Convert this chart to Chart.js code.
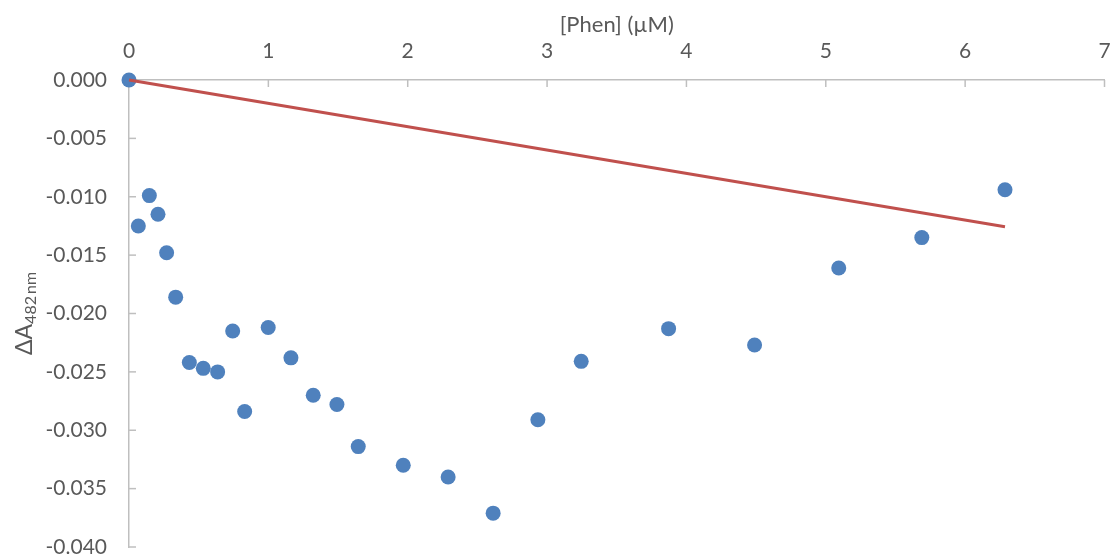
<!DOCTYPE html>
<html>
<head>
<meta charset="utf-8">
<title>Phen titration</title>
<script src="https://cdn.jsdelivr.net/npm/chart.js@4/dist/chart.umd.min.js"></script>
<style>
  html, body { margin: 0; padding: 0; background: #fff; }
  #wrap { width: 1112px; height: 555px; }
</style>
</head>
<body>
<div id="wrap"><canvas id="phenChart" width="1112" height="555"></canvas></div>
<script>
// [Phen] in µM and the absorbance change at 482 nm
const phen = [0, 0.067, 0.146, 0.208, 0.270, 0.335, 0.433, 0.533, 0.636, 0.744, 0.830, 0.999, 1.162,
  1.322, 1.492, 1.645, 1.968, 2.290, 2.613, 2.934, 3.245, 3.872, 4.489, 5.093, 5.689, 6.286];
const dA482 = [0, -0.0125, -0.0099, -0.0115, -0.0148, -0.0186, -0.0242, -0.0247, -0.0250, -0.0215, -0.0284, -0.0212, -0.0238,
  -0.0270, -0.0278, -0.0314, -0.0330, -0.0340, -0.0371, -0.0291, -0.0241, -0.0213, -0.0227, -0.0161, -0.0135, -0.0094];

// linear fit drawn in red
const fitX = [0, 6.286];
const fitY = [0, -0.01257];

const xTicks = [0, 1, 2, 3, 4, 5, 6, 7];
const yTicks = [0, -0.005, -0.010, -0.015, -0.020, -0.025, -0.030, -0.035, -0.040];

const axisColor = '#BFBFBF';
const textColor = '#595959';
const fontFamily = 'Lato, "Open Sans", sans-serif';

// Excel-style tick marks pointing into the plot area
const innerTicks = {
  id: 'innerTicks',
  beforeDatasetsDraw(chart) {
    const { ctx, scales: { x, y } } = chart;
    ctx.save();
    ctx.strokeStyle = axisColor;
    ctx.lineWidth = 1.5;
    x.ticks.forEach(t => {
      const px = x.getPixelForValue(t.value);
      ctx.beginPath();
      ctx.moveTo(px, x.bottom);
      ctx.lineTo(px, x.bottom + 7);
      ctx.stroke();
    });
    y.ticks.forEach(t => {
      const py = y.getPixelForValue(t.value);
      ctx.beginPath();
      ctx.moveTo(y.right, py);
      ctx.lineTo(y.right + 7, py);
      ctx.stroke();
    });
    ctx.restore();
  }
};

// y title with subscript: ΔA482 nm
const yTitle = {
  id: 'yTitle',
  afterDraw(chart) {
    const { ctx, chartArea } = chart;
    const cy = (chartArea.top + chartArea.bottom) / 2;
    ctx.save();
    ctx.translate(32, cy);
    ctx.rotate(-Math.PI / 2);
    ctx.fillStyle = textColor;
    ctx.textBaseline = 'alphabetic';
    const main = '\u0394A';
    const sub = '482\u2009nm';
    ctx.font = '23px ' + fontFamily;
    const w1 = ctx.measureText(main).width;
    ctx.font = '16px ' + fontFamily;
    const w2 = ctx.measureText(sub).width;
    const start = -(w1 + w2) / 2;
    ctx.font = '23px ' + fontFamily;
    ctx.fillText(main, start, 0);
    ctx.font = '16px ' + fontFamily;
    ctx.fillText(sub, start + w1, 4);
    ctx.restore();
  }
};

new Chart(document.getElementById('phenChart'), {
  type: 'scatter',
  data: {
    datasets: [
      {
        label: 'fit',
        data: fitX.map((v, i) => ({ x: v, y: fitY[i] })),
        showLine: true,
        borderColor: '#C0504D',
        borderWidth: 3,
        pointRadius: 0,
        clip: false,
        order: 0
      },
      {
        label: 'ΔA482',
        data: phen.map((v, i) => ({ x: v, y: dA482[i] })),
        pointRadius: 7.5,
        pointBackgroundColor: '#4F81BD',
        pointBorderWidth: 0,
        clip: false,
        order: 1
      }
    ]
  },
  options: {
    responsive: false,
    animation: false,
    layout: { padding: { left: 0, right: 7, top: 0, bottom: 8 } },
    plugins: { legend: { display: false }, tooltip: { enabled: false } },
    scales: {
      x: {
        type: 'linear',
        position: 'top',
        min: 0,
        max: 7,
        afterBuildTicks: s => { s.ticks = xTicks.map(v => ({ value: v })); },
        afterFit: s => { s.height = 80; s.paddingLeft = 0; s.paddingRight = 0; },
        grid: { display: false, drawTicks: false },
        border: { color: axisColor, width: 1.5 },
        ticks: { color: textColor, font: { family: fontFamily, size: 21 }, padding: 16, maxRotation: 0 },
        title: {
          display: true,
          text: '[Phen] (\u00b5M)',
          color: textColor,
          font: { family: fontFamily, size: 22 },
          padding: { top: 12, bottom: 0 }
        }
      },
      y: {
        type: 'linear',
        min: -0.04,
        max: 0,
        afterBuildTicks: s => { s.ticks = yTicks.map(v => ({ value: v })); },
        afterFit: s => { s.width = 129; s.paddingTop = 0; s.paddingBottom = 0; },
        grid: { display: false, drawTicks: false },
        border: { color: axisColor, width: 1.5 },
        ticks: {
          color: textColor,
          font: { family: fontFamily, size: 21 },
          padding: 22,
          callback: v => v.toFixed(3)
        }
      }
    }
  },
  plugins: [innerTicks, yTitle]
});
</script>
</body>
</html>
